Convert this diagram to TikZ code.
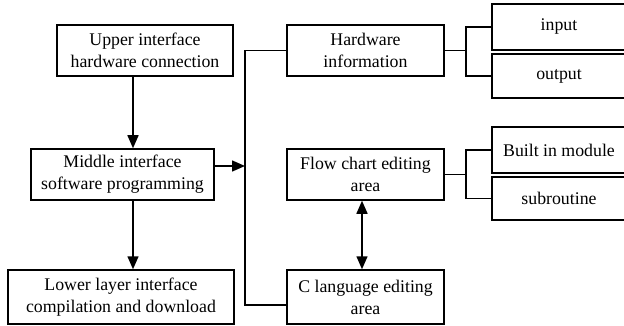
\documentclass[tikz,border=0pt]{standalone}
\usepackage{fontspec}
\setmainfont{Liberation Serif}
\usetikzlibrary{arrows.meta}
\begin{document}
\begin{tikzpicture}[x=1pt,y=-1pt,
  box/.style={draw,line width=1.5pt,inner sep=0pt,align=center,
    font=\fontsize{17.8}{22}\selectfont},
  conn/.style={line width=1.5pt},
  arr/.style={conn,-{Triangle[length=13pt,width=11pt]}},
  darr/.style={conn,{Triangle[length=13pt,width=11pt]}-{Triangle[length=13pt,width=11pt]}}]
\useasboundingbox (0,0) rectangle (624,326);
\node[box,minimum width=176pt,minimum height=51pt] (up) at (145,50.5) {Upper interface\\hardware connection};
\node[box,minimum width=183pt,minimum height=51pt] (mid) at (122.5,174.5) {Middle interface\\software programming};
\node[box,minimum width=226pt,minimum height=54pt] (low) at (121,297) {Lower layer interface\\compilation and download};
\node[box,minimum width=157pt,minimum height=51pt] (hw) at (365.5,50.5) {Hardware\\information};
\node[box,minimum width=157pt,minimum height=51pt] (fc) at (365.5,174.5) {Flow chart editing\\area};
\node[box,minimum width=157pt,minimum height=54pt] (cl) at (365.5,297) {C language editing\\area};
\node[box,minimum width=134pt,minimum height=46pt] (in) at (559,27) {input};
\node[box,minimum width=134pt,minimum height=44pt] (out) at (559,76) {output};
\node[box,minimum width=134pt,minimum height=46pt] (bim) at (559,150) {Built in module};
\node[box,minimum width=134pt,minimum height=43pt] (sub) at (559,198.5) {subroutine};
\coordinate (ax) at (133,0);
\coordinate (dx) at (362,0);
\coordinate (bus) at (245,0);
\coordinate (ay) at (0,166);
\coordinate (cy) at (0,305);
\coordinate (br) at (466,0);
\draw[arr] (up.south -| ax) -- (mid.north -| ax);
\draw[arr] (mid.south -| ax) -- (low.north -| ax);
\draw[arr] (mid.east |- ay) -- (bus |- ay);
\draw[conn] (hw.west) -- (bus |- hw.west) -- (bus |- cy) -- (cl.west |- cy);
\draw[darr] (fc.south -| dx) -- (cl.north -| dx);
\draw[conn] (hw.east) -- (br |- hw.east);
\draw[conn] (in.west) -- (br |- in.west) -- (br |- out.west) -- (out.west);
\draw[conn] (fc.east) -- (br |- fc.east);
\draw[conn] (bim.west) -- (br |- bim.west) -- (br |- sub.west) -- (sub.west);
\end{tikzpicture}
\end{document}
